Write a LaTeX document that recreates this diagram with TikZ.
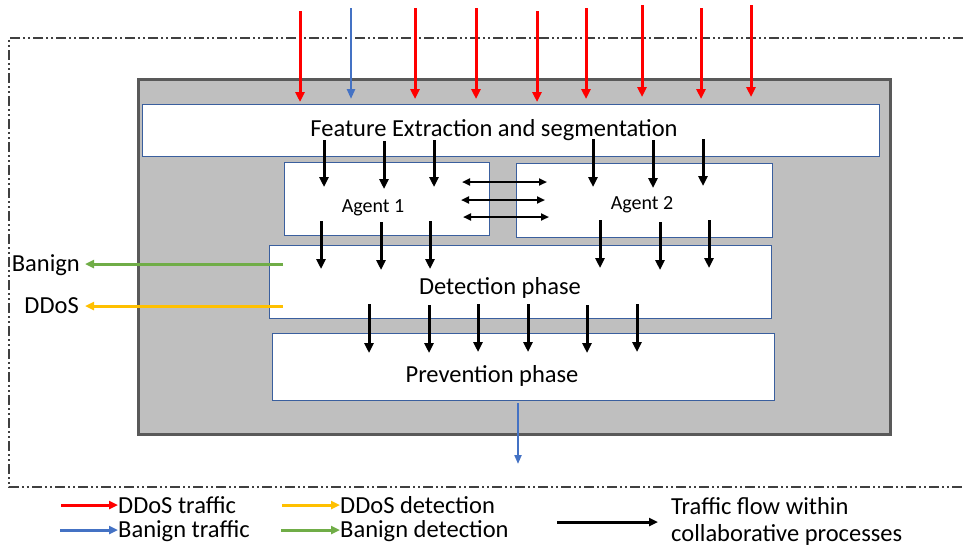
\documentclass[tikz,border=0pt]{standalone}
\usepackage{fontspec}
\setmainfont{Carlito}
\usetikzlibrary{arrows.meta}
\definecolor{redA}{HTML}{FF0000}
\definecolor{blueA}{HTML}{4472C4}
\definecolor{greenA}{HTML}{70AD47}
\definecolor{yellowA}{HTML}{FFC000}
\definecolor{boxgray}{HTML}{BFBFBF}
\definecolor{boxedge}{HTML}{595959}
\definecolor{inedge}{HTML}{3A5F9E}
\definecolor{framecol}{HTML}{404040}
\begin{document}
\begin{tikzpicture}[x=1pt,y=-1pt,
  phasebox/.style={draw=inedge, line width=1pt, fill=white, anchor=north west, inner sep=0pt},
  sysbox/.style={draw=boxedge, line width=3pt, fill=boxgray, anchor=north west, inner sep=0pt},
  lbl/.style={font=\fontsize{24.5}{28}\selectfont, inner sep=0pt},
  albl/.style={font=\fontsize{20}{24}\selectfont, inner sep=0pt},
  flow/.style={line width=3pt, -{Triangle[length=10pt,width=9pt]}},
  inred/.style={draw=redA, line width=3pt, -{Triangle[length=10pt,width=9pt]}},
  inblue/.style={draw=blueA, line width=2.5pt, -{Triangle[length=10pt,width=8pt]}},
  outblue/.style={draw=blueA, line width=2pt, -{Triangle[length=9pt,width=7pt]}},
  detarrow/.style={line width=3pt, -{Triangle[length=9pt,width=8pt]}},
  dbl/.style={line width=2pt, {Triangle[length=8pt,width=7pt]}-{Triangle[length=8pt,width=7pt]}},
  legarrow/.style={line width=3pt, -{Triangle[length=9pt,width=8pt]}},
  frame/.style={draw=framecol, line width=1.5pt, dash pattern=on 10pt off 3pt on 2pt off 3pt on 2pt off 3pt}
]
\useasboundingbox (0,0) rectangle (963,550);

% outer dash-dot frame
\draw[frame] (963,38) -- (9,38) -- (9,487) -- (963,487);

% system box
\node[sysbox, minimum width=752pt, minimum height=355pt] (sys) at (137,78) {};

% phases
\node[phasebox, minimum width=737pt, minimum height=52pt] (fe) at (142,104) {};
\node[phasebox, minimum width=205pt, minimum height=73pt] (ag1) at (284,162) {};
\node[phasebox, minimum width=256pt, minimum height=74pt] (ag2) at (516,163) {};
\node[phasebox, minimum width=502pt, minimum height=73pt] (det) at (269,245) {};
\node[phasebox, minimum width=502pt, minimum height=67pt] (prev) at (272,333) {};

\node[lbl] (fetext) at (494,130) {Feature Extraction and segmentation};
\node[albl] (ag1text) at (373,208) {Agent 1};
\node[albl] (ag2text) at (642,205) {Agent 2};
\node[lbl] (dettext) at (500,288) {Detection phase};
\node[lbl] (prevtext) at (492,376) {Prevention phase};

% incoming traffic
\foreach \i/\x/\ya/\yb in {1/300/11/102, 3/415/8/99, 4/476/8/99, 5/537/11/102, 6/586/8/99, 7/642/5/97, 8/701/8/99, 9/751/5/97}{
  \coordinate (in\i) at (\x,\ya);
  \coordinate (inend\i) at (\x,\yb);
  \draw[inred] (in\i) -- (inend\i);
}
\coordinate (in2) at (351,8);
\coordinate (inend2) at (351,99);
\draw[inblue] (in2) -- (inend2);

% feature extraction -> agents
\foreach \i/\x/\ya/\yb in {1/324/140/187, 2/384/141/189, 3/434/140/187, 4/593/139/187, 5/653/140/188, 6/703/139/186}{
  \coordinate (fa\i) at (\x,\ya);
  \coordinate (fb\i) at (\x,\yb);
  \draw[flow] (fa\i) -- (fb\i);
}

% agents exchange
\foreach \i/\y/\xa/\xb in {1/182/462/547, 2/200/461/545, 3/217/463/549}{
  \coordinate (xa\i) at (\xa,\y);
  \coordinate (xb\i) at (\xb,\y);
  \draw[dbl] (xa\i) -- (xb\i);
}

% agents -> detection
\foreach \i/\x/\ya/\yb in {1/321/221/269, 2/381/222/270, 3/430/221/269, 4/600/220/268, 5/660/222/270, 6/709/220/268}{
  \coordinate (da\i) at (\x,\ya);
  \coordinate (db\i) at (\x,\yb);
  \draw[flow] (da\i) -- (db\i);
}

% detection -> prevention
\foreach \i/\x/\ya/\yb in {1/369/304/353, 2/429/305/353, 3/478/304/352, 4/528/304/352, 5/587/305/353, 6/637/304/352}{
  \coordinate (pa\i) at (\x,\ya);
  \coordinate (pb\i) at (\x,\yb);
  \draw[flow] (pa\i) -- (pb\i);
}

% detection outputs
\node[lbl, anchor=east] (banign) at (80,265) {Banign};
\node[lbl, anchor=east] (ddos) at (79,306) {DDoS};
\coordinate (gs) at (283,264);
\coordinate (ys) at (283,306);
\draw[detarrow, draw=greenA] (gs) -- (gs -| 85,0);
\draw[detarrow, draw=yellowA] (ys) -- (ys -| 85,0);

% output benign traffic
\coordinate (outs) at (518,403);
\coordinate (oute) at (518,464);
\draw[outblue] (outs) -- (oute);

% legend
\node[lbl, anchor=west] (l1) at (118,505) {DDoS traffic};
\node[lbl, anchor=west] (l2) at (118,531) {Banign traffic};
\node[lbl, anchor=west] (l3) at (340,505) {DDoS detection};
\node[lbl, anchor=west] (l4) at (340,531) {Banign detection};
\node[lbl, anchor=west] (l5) at (671,506) {Traffic flow within};
\node[lbl, anchor=west] (l6) at (671,535) {collaborative processes};
\coordinate (lr) at (61,505);
\coordinate (lb) at (60,530);
\coordinate (ly) at (282,505);
\coordinate (lg) at (281,530);
\coordinate (lk) at (557,522);
\draw[legarrow, draw=redA] (lr) -- (lr -| l1.west);
\draw[legarrow, draw=blueA] (lb) -- (lb -| l2.west);
\draw[legarrow, draw=yellowA] (ly) -- (ly -| l3.west);
\draw[legarrow, draw=greenA] (lg) -- (lg -| l4.west);
\draw[legarrow] (lk) -- (658,522);
\end{tikzpicture}
\end{document}
